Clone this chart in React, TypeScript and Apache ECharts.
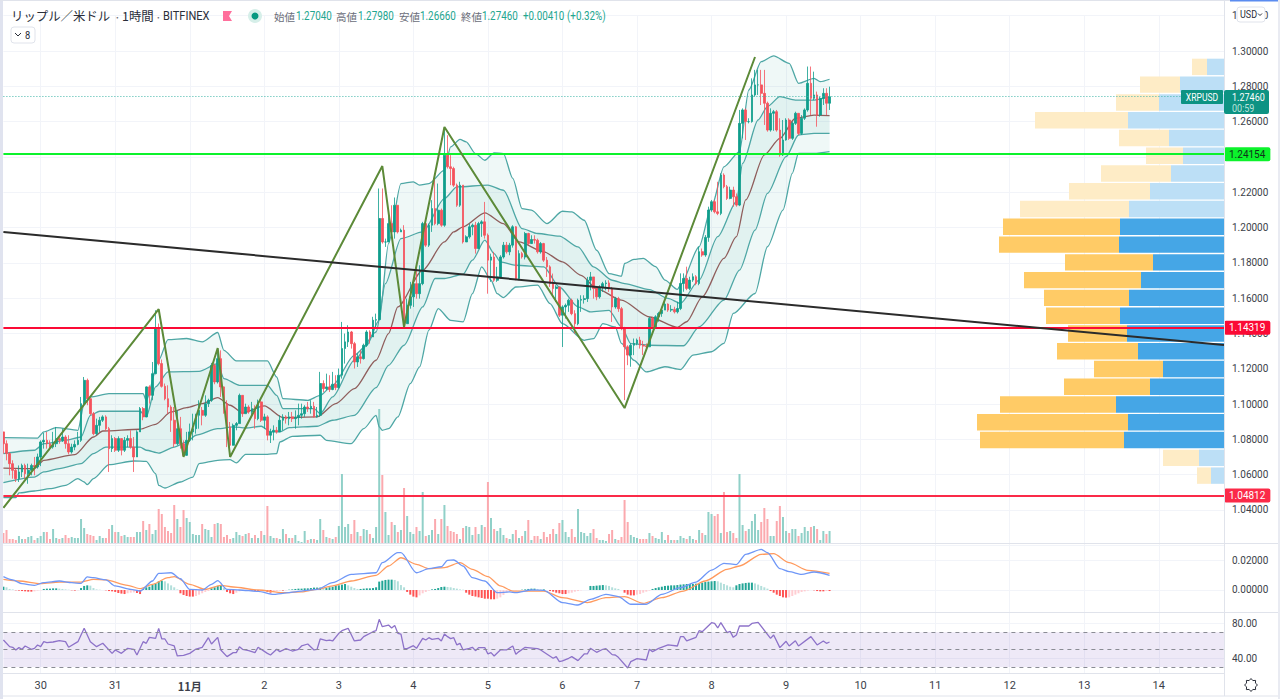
import React, { useEffect, useRef } from "react";
import * as echarts from "echarts";

const dayLabels = ["30", "31", "11月", "2", "3", "4", "5", "6", "7", "8", "9", "10", "11", "12", "13", "14"];
const firstDayIndex = 12;
const hoursPerDay = 24;
const slotCount = 394;
const firstOpen = 1.0842;

const closes = [
1.0775,1.0719,1.0662,1.0624,1.0577,1.0615,1.0652,1.0605,1.0624,1.0652,1.0643,1.0700,1.0785,1.0794,1.0775,1.0756,1.0775,1.0804,1.0794,1.0813,1.0775,1.0728,1.0756,1.0771,1.0794,
1.1002,1.1134,1.1030,1.0945,1.0832,1.0879,1.0908,1.0927,1.0860,1.0747,1.0804,1.0738,1.0804,1.0738,1.0794,1.0804,1.0756,1.0700,1.0842,1.0974,1.0927,1.1097,1.1049,1.1172,1.1428,
1.1229,1.1100,1.1030,1.0983,1.0908,1.0775,1.0860,1.0775,1.0709,1.0794,1.0842,1.0860,1.0936,1.0964,1.0936,1.1002,1.1021,1.1219,1.1125,1.1257,1.1097,1.1002,1.0870,1.0766,1.0879,
1.0889,1.1049,1.0945,1.0983,1.0955,1.0974,1.0917,1.1012,1.0908,1.0927,1.0823,1.0842,1.0851,1.0842,1.0908,1.0927,1.0917,1.0927,1.0917,1.0923,1.0936,1.0945,1.0983,1.0974,1.0987,
1.0927,1.0936,1.1116,1.1087,1.1097,1.1082,1.1112,1.1093,1.1163,1.1314,1.1352,1.1408,1.1342,1.1238,1.1267,1.1257,1.1333,1.1408,1.1380,1.1475,
1.1478,1.2051,1.1918,1.1918,1.2022,1.1975,1.2126,1.1975,1.1985,1.1455,1.1559,1.1607,1.1682,1.1625,1.1682,1.2022,1.1900,1.2013,1.2107,1.2022,1.2098,1.2013,1.2410,1.2344,1.2334,
1.2240,1.2126,1.2240,1.1918,1.1947,1.2004,1.2013,1.1881,1.2022,1.2032,1.1956,1.1815,1.1833,1.1701,1.1720,1.1833,1.1900,1.1862,1.1900,1.2004,1.1711,1.1852,1.1833,1.1966,1.1909,
1.1932,1.1928,1.1862,1.1909,1.1815,1.1777,1.1682,1.1654,1.1663,1.1503,1.1550,1.1559,1.1588,1.1512,1.1455,1.1588,1.1592,1.1597,1.1701,1.1720,1.1654,1.1607,1.1663,1.1682,1.1686,
1.1654,1.1550,1.1597,1.1540,1.1427,1.1324,1.1277,1.1333,1.1343,1.1362,1.1333,1.1328,1.1324,1.1485,1.1437,1.1494,1.1513,1.1532,1.1566,1.1532,1.1536,1.1522,1.1541,1.1683,1.1711,
1.1655,1.1702,1.1721,1.1683,1.1863,1.1844,1.1944,1.2099,1.2146,1.2089,1.2080,1.2297,1.2231,1.2165,1.2212,1.2174,1.2127,1.2590,1.2666,1.2600,1.2600,1.2751,1.2808,1.2808,1.2760,
1.2704,1.2552,1.2647,1.2656,1.2552,1.2411,1.2496,1.2609,1.2505,1.2590,1.2647,1.2533,1.2619,1.2666,1.2817,1.2732,1.2751,1.2637,1.2732,1.2760,1.2704,1.2741];
const highs = [
1.0842,1.0794,1.0728,1.0681,1.0634,1.0652,1.0662,1.0662,1.0662,1.0662,1.0700,1.0719,1.0794,1.0836,1.0842,1.0794,1.0842,1.0870,1.0823,1.0860,1.0823,1.0823,1.0775,1.0794,1.0842,
1.1040,1.1153,1.1144,1.0998,1.0955,1.0917,1.0927,1.0936,1.0936,1.0870,1.0823,1.0813,1.0817,1.0804,1.0813,1.0823,1.0851,1.0813,1.0851,1.0983,1.0983,1.1100,1.1106,1.1238,1.1531,
1.1456,1.1252,1.1116,1.1106,1.0993,1.0983,1.0964,1.0927,1.0794,1.0842,1.0889,1.0945,1.0945,1.1021,1.0983,1.1049,1.1030,1.1233,1.1229,1.1304,1.1304,1.1100,1.1021,1.0898,1.0889,
1.0898,1.1059,1.1049,1.1002,1.0993,1.1012,1.0993,1.1025,1.1021,1.0945,1.0936,1.0860,1.0879,1.0870,1.0936,1.0942,1.0936,1.0955,1.0955,1.0964,1.1002,1.1002,1.0993,1.1012,1.1021,
1.1012,1.0983,1.1182,1.1134,1.1172,1.1163,1.1182,1.1163,1.1201,1.1465,1.1399,1.1446,1.1414,1.1352,1.1286,1.1304,1.1342,1.1418,1.1418,1.1494,
1.1512,1.2221,1.2221,1.1937,1.2079,1.2126,1.2170,1.2126,1.1994,1.2013,1.1597,1.1692,1.1692,1.1786,1.1786,1.2032,1.2004,1.2022,1.2155,1.2287,1.2249,1.2107,1.2552,1.2523,1.2410,
1.2344,1.2249,1.2259,1.2240,1.1956,1.2022,1.2022,1.2032,1.2032,1.2041,1.2145,1.1966,1.1852,1.1862,1.1777,1.1843,1.1918,1.1918,1.1913,1.2013,1.2008,1.1871,1.1862,1.1975,1.1970,
1.1956,1.1956,1.1937,1.1918,1.1913,1.1833,1.1786,1.1739,1.1673,1.1663,1.1559,1.1569,1.1597,1.1597,1.1531,1.1597,1.1616,1.1616,1.1720,1.1748,1.1720,1.1654,1.1673,1.1692,1.1701,
1.1701,1.1663,1.1607,1.1607,1.1550,1.1437,1.1333,1.1343,1.1371,1.1371,1.1381,1.1358,1.1343,1.1494,1.1494,1.1503,1.1522,1.1551,1.1579,1.1570,1.1560,1.1551,1.1579,1.1740,1.1740,
1.1778,1.1721,1.1740,1.1730,1.1891,1.1881,1.1957,1.2118,1.2156,1.2156,1.2259,1.2307,1.2307,1.2241,1.2231,1.2231,1.2193,1.2666,1.2675,1.2675,1.2619,1.2845,1.2893,1.2893,1.2893,
1.2893,1.2713,1.2675,1.2666,1.2666,1.2619,1.2609,1.2619,1.2619,1.2600,1.2656,1.2647,1.2637,1.2675,1.2912,1.2912,1.2883,1.2770,1.2741,1.2789,1.2789,1.2798];
const lows = [
1.0719,1.0681,1.0596,1.0577,1.0558,1.0558,1.0586,1.0577,1.0548,1.0596,1.0596,1.0634,1.0648,1.0747,1.0747,1.0738,1.0747,1.0756,1.0775,1.0785,1.0747,1.0715,1.0719,1.0738,1.0766,
1.0785,1.0998,1.0993,1.0936,1.0823,1.0823,1.0842,1.0898,1.0847,1.0615,1.0728,1.0728,1.0728,1.0709,1.0728,1.0756,1.0747,1.0615,1.0700,1.0842,1.0908,1.0945,1.1002,1.1021,1.1168,
1.1219,1.1093,1.1021,1.0945,1.0842,1.0756,1.0766,1.0747,1.0700,1.0719,1.0785,1.0794,1.0832,1.0860,1.0879,1.0927,1.0983,1.1012,1.1112,1.1116,1.1040,1.0945,1.0756,1.0700,1.0804,
1.0851,1.0889,1.0927,1.0945,1.0945,1.0936,1.0860,1.0908,1.0898,1.0860,1.0794,1.0779,1.0794,1.0832,1.0898,1.0851,1.0889,1.0879,1.0898,1.0860,1.0879,1.0917,1.0927,1.0955,1.0945,
1.0923,1.0923,1.0927,1.1068,1.1078,1.1068,1.1078,1.1078,1.1087,1.1144,1.1229,1.1323,1.1314,1.1201,1.1210,1.1229,1.1252,1.1323,1.1342,1.1390,
1.1427,1.1474,1.1909,1.1890,1.1924,1.1937,1.1937,1.1966,1.1975,1.1437,1.1455,1.1540,1.1550,1.1597,1.1597,1.1673,1.1890,1.1890,1.1975,1.2013,1.2013,1.2004,1.2004,1.2334,1.2240,
1.2230,1.2117,1.2117,1.1909,1.1918,1.1937,1.1956,1.1852,1.1937,1.1947,1.1937,1.1625,1.1692,1.1692,1.1692,1.1711,1.1824,1.1852,1.1843,1.1886,1.1701,1.1701,1.1824,1.1819,1.1900,
1.1918,1.1909,1.1852,1.1852,1.1805,1.1720,1.1663,1.1607,1.1578,1.1493,1.1323,1.1484,1.1522,1.1503,1.1399,1.1446,1.1522,1.1569,1.1578,1.1644,1.1597,1.1588,1.1597,1.1635,1.1644,
1.1635,1.1465,1.1540,1.1522,1.1418,1.1022,1.1220,1.1211,1.1277,1.1333,1.1314,1.1277,1.1314,1.1324,1.1428,1.1428,1.1466,1.1494,1.1532,1.1522,1.1522,1.1513,1.1513,1.1532,1.1636,
1.1645,1.1645,1.1692,1.1673,1.1673,1.1834,1.1834,1.1919,1.2089,1.2080,1.2070,1.2070,1.2222,1.2156,1.2160,1.2118,1.2118,1.2121,1.2505,1.2496,1.2590,1.2594,1.2741,1.2751,1.2694,
1.2581,1.2543,1.2543,1.2548,1.2543,1.2401,1.2405,1.2492,1.2496,1.2496,1.2581,1.2524,1.2524,1.2609,1.2656,1.2637,1.2722,1.2571,1.2628,1.2694,1.2637,1.2666];
const volumes = [
10,13,4,4,3,7,4,4,6,7,3,5,7,11,11,4,14,5,4,5,8,5,6,5,5,24,15,9,8,7,3,7,5,5,14,18,11,11,7,8,6,6,6,11,11,22,13,19,9,13,
34,29,16,12,10,38,24,16,33,25,21,9,8,8,19,14,13,6,19,20,19,6,8,4,5,11,8,7,9,10,5,8,5,12,8,37,7,5,5,4,14,9,5,5,8,2,1,12,3,4,
4,3,24,13,6,5,4,6,17,69,16,19,9,23,11,7,14,13,9,5,16,134,68,31,8,21,18,11,13,55,27,11,9,16,12,51,7,8,13,24,9,24,38,17,12,11,9,4,15,17,
16,8,16,9,18,16,61,25,14,12,15,8,5,4,9,13,5,7,12,23,3,7,7,4,11,6,9,14,9,20,23,11,6,14,6,34,11,10,7,10,14,5,3,3,2,9,13,4,3,6,
43,21,8,6,5,4,4,4,10,7,5,4,11,3,8,3,3,3,7,5,4,7,4,3,13,10,8,31,29,27,29,10,51,11,12,10,5,69,18,12,14,22,29,13,21,35,24,7,7,22,
37,26,12,10,14,14,7,10,16,12,16,17,14,3,12,9,12];
const macdHist = [
.0022,.0018,.0007,.0004,-.0002,-.0004,-.0007,-.0009,-.0011,-.0011,-.0009,-.0004,-.0002,.0007,.0009,.0009,.0011,.0011,.0009,.0007,.0004,.0002,-.0002,-.0004,-.0002,
.0013,.0027,.0031,.0029,.0013,.0004,.0002,0,-.0002,-.0007,-.0009,-.0013,-.0020,-.0024,-.0027,-.0022,-.0018,-.0016,-.0020,-.0027,
.0007,.0018,.0022,.0033,.0044,.0058,.0062,.0058,.0044,.0031,.0018,.0004,-.0022,-.0033,-.0040,-.0044,-.0044,-.0040,-.0031,-.0022,-.0013,-.0007,
.0011,.0018,.0027,.0031,.0013,-.0013,-.0022,-.0027,-.0018,-.0009,-.0004,-.0002,-.0002,-.0004,-.0007,-.0007,-.0004,-.0004,-.0013,-.0018,-.0011,-.0007,-.0004,-.0004,-.0002,.0002,
.0004,.0007,.0009,.0009,.0011,.0011,.0013,.0016,.0016,.0016,.0013,.0013,.0018,.0022,.0027,.0031,.0036,.0040,.0031,.0022,.0013,.0007,.0007,.0009,.0011,.0011,.0013,.0018,
.0056,.0062,.0067,.0069,.0069,.0067,.0058,.0033,.0018,-.0013,-.0031,-.0044,-.0049,-.0036,-.0022,-.0013,-.0004,.0004,.0007,.0013,.0020,.0022,.0020,.0018,.0013,.0009,.0004,.0002,
-.0018,-.0031,-.0040,-.0044,-.0049,-.0053,-.0058,-.0058,-.0062,-.0062,-.0058,-.0049,-.0033,-.0018,-.0009,-.0004,-.0002,0,.0002,.0004,.0007,.0009,.0009,.0007,.0004,.0004,0,
-.0007,-.0011,-.0018,-.0022,-.0027,-.0027,-.0022,-.0018,-.0011,-.0007,-.0002,0,0,.0027,.0027,.0029,.0031,.0033,.0031,.0027,.0018,.0011,.0007,0,
-.0018,-.0031,-.0036,-.0036,-.0031,-.0027,-.0018,-.0011,-.0004,.0007,.0013,.0018,.0022,.0027,.0029,.0031,.0031,.0033,.0036,.0038,.0040,.0040,.0040,.0042,.0044,.0049,
.0053,.0056,.0058,.0060,.0058,.0049,.0040,.0031,.0022,.0018,.0031,.0040,.0044,.0047,.0049,.0049,.0044,.0036,.0027,.0018,.0009,
-.0007,-.0018,-.0031,-.0040,-.0049,-.0051,-.0049,-.0040,-.0031,-.0022,-.0013,-.0009,-.0004,0,-.0002,-.0007,-.0009,-.0009,-.0007,-.0007];

const bandUpperOuter = [[0,1.0809],[11,1.0807],[13,1.0842],[17,1.0866],[24,1.0851],[26,1.1002],[28,1.1040],[34,1.1059],[45,1.1059],[46,1.1021],[50,1.1248],[53,1.1365],[59,1.1371],[64,1.1352],[69,1.1405],[71,1.1304],[75,1.1244],[85,1.1244],[88,1.1153],[90,1.1030],[98,1.1021],[102,1.1049],[106,1.1106],[113,1.1276],[117,1.1333],[121,1.1475],[124,1.1909],[128,1.2249],[132,1.2259],[134,1.2240],[137,1.2249],[142,1.2325],[144,1.2457],[147,1.2499],[149,1.2485],[152,1.2419],[155,1.2381],[158,1.2423],[161,1.2419],[164,1.2278],[167,1.2107],[170,1.2098],[175,1.2022],[180,1.2092],[183,1.2089],[187,1.2041],[191,1.1871],[195,1.1739],[199,1.1724],[200,1.1796],[203,1.1819],[206,1.1825],[210,1.1778],[213,1.1702],[217,1.1649],[218,1.1674],[224,1.1891],[228,1.2118],[232,1.2344],[237,1.2430],[240,1.2779],[244,1.2940],[248,1.2972],[253,1.2930],[256,1.2817],[261,1.2845],[263,1.2826],[266,1.2840]];
const bandUpperInner = [[0,1.0719],[10,1.0738],[13,1.0775],[20,1.0794],[25,1.0813],[28,1.0936],[31,1.0959],[44,1.0959],[46,1.0927],[49,1.1097],[53,1.1182],[63,1.1185],[69,1.1229],[71,1.1144],[76,1.1106],[85,1.1106],[88,1.1049],[90,1.0974],[100,1.0974],[102,1.0945],[106,1.1040],[113,1.1248],[120,1.1408],[123,1.1682],[128,1.1937],[135,1.1975],[142,1.2164],[146,1.2230],[156,1.2240],[161,1.2211],[167,1.1994],[172,1.1966],[179,1.1951],[185,1.1890],[190,1.1777],[196,1.1701],[200,1.1682],[208,1.1648],[214,1.1598],[218,1.1570],[224,1.1702],[230,1.1948],[236,1.2146],[238,1.2363],[243,1.2609],[246,1.2685],[250,1.2741],[255,1.2722],[261,1.2722],[266,1.2741]];
const bandMiddle = [[0,1.0637],[10,1.0634],[13,1.0681],[23,1.0713],[29,1.0813],[32,1.0847],[44,1.0857],[49,1.0885],[54,1.0955],[59,1.0979],[64,1.1002],[69,1.1036],[73,1.0993],[77,1.0949],[84,1.0989],[90,1.0923],[101,1.0927],[107,1.1002],[113,1.1087],[120,1.1248],[124,1.1399],[127,1.1550],[135,1.1758],[142,1.1918],[145,1.1975],[148,1.2004],[155,1.2083],[161,1.2022],[166,1.1918],[174,1.1862],[180,1.1805],[186,1.1729],[191,1.1654],[199,1.1588],[208,1.1493],[217,1.1434],[220,1.1466],[225,1.1607],[232,1.1825],[236,1.1948],[239,1.2156],[245,1.2411],[250,1.2505],[255,1.2619],[261,1.2637],[266,1.2634]];
const bandLowerInner = [[0,1.0554],[10,1.0586],[13,1.0615],[18,1.0634],[25,1.0662],[29,1.0719],[33,1.0756],[44,1.0756],[46,1.0738],[50,1.0722],[55,1.0756],[59,1.0785],[62,1.0823],[69,1.0860],[74,1.0870],[78,1.0864],[83,1.0874],[86,1.0842],[89,1.0842],[92,1.0866],[101,1.0874],[106,1.0908],[113,1.0936],[120,1.1093],[124,1.1219],[129,1.1333],[135,1.1550],[139,1.1711],[142,1.1711],[148,1.1735],[151,1.1815],[155,1.1928],[158,1.1852],[160,1.1805],[165,1.1786],[174,1.1777],[179,1.1663],[185,1.1550],[189,1.1522],[195,1.1531],[199,1.1437],[202,1.1342],[208,1.1333],[219,1.1330],[224,1.1437],[232,1.1589],[237,1.1759],[242,1.1985],[246,1.2193],[252,1.2401],[256,1.2524],[261,1.2533],[266,1.2533]];
const bandLowerOuter = [[0,1.0469],[4,1.0469],[5,1.0496],[10,1.0507],[15,1.0520],[20,1.0539],[24,1.0577],[26,1.0558],[27,1.0543],[29,1.0577],[34,1.0656],[42,1.0677],[46,1.0675],[49,1.0605],[50,1.0539],[52,1.0524],[57,1.0558],[61,1.0586],[63,1.0662],[69,1.0681],[73,1.0685],[75,1.0666],[78,1.0715],[85,1.0715],[88,1.0719],[89,1.0785],[93,1.0817],[102,1.0823],[104,1.0794],[112,1.0775],[116,1.0860],[120,1.0936],[121,1.0870],[122,1.0851],[124,1.0860],[127,1.0927],[131,1.1116],[134,1.1210],[137,1.1418],[140,1.1540],[144,1.1474],[148,1.1465],[151,1.1625],[154,1.1777],[157,1.1701],[159,1.1625],[161,1.1603],[165,1.1663],[172,1.1673],[176,1.1569],[180,1.1455],[187,1.1361],[190,1.1370],[193,1.1455],[197,1.1437],[199,1.1343],[203,1.1248],[207,1.1182],[213,1.1211],[218,1.1195],[222,1.1277],[228,1.1296],[232,1.1343],[235,1.1513],[242,1.1626],[246,1.1891],[251,1.2099],[254,1.2307],[256,1.2420],[261,1.2420],[266,1.2430]];

const zigzag = [[0,1.0411],[50,1.1537],[58,1.0700],[69,1.1317],[73,1.0700],[122,1.2348],[129,1.1436],[142,1.2569],[200,1.0977],[242,1.2966]];
const trendLine = [[0,1.1975],[393,1.1334]];
const levelGreen = 1.24154;
const levelRedUpper = 1.14319;
const levelRedLower = 1.04812;
const lastPrice = 1.2746;

const macdLine = [[0,.0089],[3,.0067],[6,.0042],[10,.0031],[13,.0049],[18,.0060],[22,.0049],[25,.0044],[27,.0087],[29,.0082],[33,.0067],[36,.0027],[41,.0004],[44,-.0007],[48,.0060],[50,.0111],[54,.0115],[57,.0075],[60,.0004],[64,0],[67,.0038],[69,.0062],[72,.0004],[76,0],[82,-.0009],[87,-.0029],[90,-.0022],[96,-.0007],[101,.0004],[106,.0049],[112,.0104],[120,.0115],[122,.0182],[127,.0249],[128,.0249],[133,.0115],[137,.0142],[141,.0155],[143,.0198],[145,.0200],[148,.0160],[151,.0082],[155,.0060],[159,-.0018],[163,-.0013],[165,-.0018],[170,0],[174,-.0002],[180,-.0084],[185,-.0100],[189,-.0062],[194,-.0029],[198,-.0044],[202,-.0095],[207,-.0095],[212,-.0029],[218,.0016],[223,.0053],[228,.0133],[232,.0178],[236,.0169],[239,.0238],[244,.0271],[246,.0249],[250,.0142],[253,.0122],[257,.0104],[261,.0120],[266,.0098]];
const macdSignal = [[0,.0071],[5,.0060],[12,.0042],[18,.0053],[25,.0053],[29,.0071],[33,.0067],[40,.0031],[44,.0009],[48,.0038],[53,.0082],[55,.0089],[60,.0038],[65,.0004],[70,.0031],[74,.0020],[82,0],[90,-.0018],[96,-.0013],[101,.0004],[106,.0027],[112,.0060],[120,.0098],[124,.0160],[128,.0215],[133,.0171],[137,.0142],[142,.0149],[147,.0182],[151,.0138],[156,.0089],[160,.0027],[164,-.0007],[170,-.0007],[174,-.0007],[180,-.0051],[188,-.0084],[194,-.0051],[200,-.0044],[206,-.0089],[212,-.0051],[219,-.0007],[226,.0060],[233,.0138],[237,.0160],[244,.0238],[248,.0242],[253,.0182],[259,.0131],[266,.0111]];
const rsiLine = [[0,61.1],[2,53.4],[3,52.7],[4,49.6],[5,52.3],[6,50.4],[7,54.2],[9,50.4],[10,51.5],[11,55.3],[12,53.4],[13,59.2],[14,58],[16,58.8],[18,60.4],[20,59.2],[21,52.7],[24,59.2],[26,74.6],[28,59.2],[30,53.4],[32,57.3],[35,45.7],[36,49.6],[38,45.7],[40,51.5],[42,50.4],[43,43.8],[45,59.2],[46,57.3],[47,64.2],[49,63],[50,74.6],[51,62.3],[52,62.3],[53,56.5],[55,54.2],[56,42.7],[58,43.4],[60,45.7],[62,50.7],[64,52.7],[66,63.8],[67,56.5],[69,64.2],[70,49.6],[72,41.9],[74,46.5],[75,46.5],[76,53.4],[77,50.4],[79,48.8],[81,46.5],[82,52.7],[85,45.7],[86,43.8],[88,50.4],[89,47.7],[91,51.1],[93,48.4],[95,50.4],[96,54.2],[98,56.5],[100,49.6],[101,50.4],[102,62.3],[104,60.4],[105,61.1],[106,60],[108,68.8],[109,71.9],[111,74.6],[113,60],[115,61.1],[116,65],[119,70.7],[120,71.9],[121,85],[122,76.5],[124,78.4],[125,75],[126,78],[127,68.8],[128,68],[129,51.1],[130,51.1],[132,54.6],[133,51.5],[135,63],[136,61.1],[137,63.8],[138,61.9],[140,63],[141,60],[142,68],[143,65],[144,62.7],[145,63.8],[146,55.4],[147,57.3],[148,49.6],[150,51.5],[151,52.7],[152,48.8],[153,52.3],[155,52.3],[156,45],[157,46.5],[158,42.7],[160,49.6],[162,49.6],[164,54.2],[165,44.6],[166,47.7],[168,52.7],[171,51.5],[172,51.1],[173,49.6],[177,40],[178,41.9],[179,36.1],[180,36.9],[182,40],[183,41.9],[185,37.3],[187,45],[188,45],[189,51.5],[191,46.9],[193,50.4],[194,51.1],[196,44.2],[197,43.8],[198,41.1],[201,28.8],[202,36.1],[204,39.6],[207,38],[208,50.4],[209,47.7],[211,51.5],[214,55.4],[217,54.2],[218,65],[219,65],[220,60],[223,64.2],[224,71.9],[225,70.7],[228,81.1],[229,80.3],[230,75],[231,81.1],[233,69.6],[234,71.1],[235,64.2],[236,66.9],[237,77.3],[240,77.3],[241,80.3],[243,81.5],[247,63],[248,66.9],[250,52.3],[252,59.6],[253,54.2],[255,60.3],[256,54.2],[260,65],[262,55.4],[264,60],[265,57.3],[266,58.8]];

const profileBuy = [17,44,65,96,55,41,53,74,95,104,105,71,83,95,104,97,86,61,74,108,96,100,25,13];
const profileSell = [15,40,43,93,50,37,70,81,109,117,120,88,117,85,74,59,81,69,86,116,151,144,36,14];
const valueAreaFirstRow = 9;
const valueAreaLastRow = 21;

const priceTicksMin = 1.02;
const priceTicksMax = 1.32;
const priceTickStep = 0.02;
const macdTicks = [0, 0.02];
const rsiTicks = [40, 80];
const rsiLevels = [70, 50, 30];

const UP = "#0f9d8c";
const DOWN = "#f5525c";
const GRID = "#f2f4f9";
const BORDER = "#e0e3eb";
const AXIS_TEXT = "#3c3f4a";
const LATIN = "Roboto, sans-serif";
const LEFT = 3.4;
const PANE_W = 1220.6;
const PANE_RIGHT = 1224;

const categories = Array.from({ length: slotCount }, (_, i) => {
  const d = (i - firstDayIndex) / hoursPerDay;
  return Number.isInteger(d) && d >= 0 && d < dayLabels.length ? dayLabels[d] : `_${i}`;
});
const isDay = (v: string) => !String(v).startsWith("_");
const dayLine = (_: number, v: string) => isDay(v);

const candleData = closes.map((c, i) => [i === 0 ? firstOpen : closes[i - 1], c, lows[i], highs[i]]);

const makeX = (gridIndex: number, showLabels = false) => ({
  type: "category",
  gridIndex,
  data: categories,
  boundaryGap: false,
  axisTick: { show: false },
  axisLine: { show: showLabels, lineStyle: { color: BORDER } },
  splitLine: { show: true, interval: dayLine, lineStyle: { color: GRID, width: 1 } },
  axisLabel: showLabels
    ? {
        show: true,
        interval: dayLine,
        margin: 7,
        fontFamily: LATIN,
        fontSize: 11,
        color: AXIS_TEXT,
        hideOverlap: false,
        showMinLabel: true,
        showMaxLabel: true,
        formatter: (v: string) => (!isDay(v) ? "" : v === "11月" ? `{b|${v}}` : v),
        rich: { b: { fontWeight: "bold", fontSize: 11, fontFamily: '"Noto Sans CJK JP", sans-serif', color: AXIS_TEXT } },
      }
    : { show: false },
});

const bandFill = (upper: number[][], lower: number[][], fill: string, z: number) => ({
  type: "custom",
  xAxisIndex: 0,
  yAxisIndex: 0,
  z,
  silent: true,
  data: [[upper[0][0], upper[0][1]]],
  encode: { x: 0, y: 1 },
  renderItem: (_: unknown, api: any) => ({
    type: "polygon",
    shape: { points: [...upper, ...[...lower].reverse()].map((p) => api.coord(p)) },
    style: { fill },
  }),
});

const bandLine = (data: number[][], color: string) => ({
  type: "line",
  xAxisIndex: 0,
  yAxisIndex: 0,
  data,
  z: 3,
  silent: true,
  showSymbol: false,
  symbol: "none",
  smooth: 0.25,
  smoothMonotone: "x",
  lineStyle: { color, width: 1.3 },
});

const levelLine = (value: number, color: string, textColor: string, width: number) => ({
  yAxis: value,
  lineStyle: { color, width, type: "solid" },
  label: {
    show: true,
    position: "end",
    distance: 0,
    formatter: value.toFixed(5),
    backgroundColor: color,
    color: textColor,
    padding: [2, 5, 2, 5],
    borderRadius: 2,
    fontFamily: LATIN,
    fontSize: 10,
  },
});

const text = (s: string, x: number, y: number, fill: string, font: string, scaleX = 1, align = "left") => ({
  type: "text",
  x,
  y,
  scaleX,
  z: 100,
  silent: true,
  style: { text: s, fill, font, align, verticalAlign: "middle" },
});
const hLine = (y: number, x1 = 0, x2 = 1280, stroke = BORDER) => ({
  type: "line",
  z: 90,
  silent: true,
  shape: { x1, y1: y, x2, y2: y },
  style: { stroke, lineWidth: 1 },
});

const JP = '"Noto Sans CJK JP", sans-serif';
const gearPoints = Array.from({ length: 16 }, (_, i) => {
  const r = i % 2 === 0 ? 6.5 : 4.8;
  const a = (i * Math.PI) / 8;
  return [1251 + r * Math.cos(a), 685 + r * Math.sin(a)];
});

const graphics = [
  hLine(543.5),
  hLine(612.5),
  hLine(696),
  { type: "line", z: 90, silent: true, shape: { x1: 1224.5, y1: 0, x2: 1224.5, y2: 696 }, style: { stroke: BORDER, lineWidth: 1 } },
  { type: "rect", z: 95, silent: true, shape: { x: 0, y: 0, width: 3, height: 699 }, style: { fill: "#e0e3ef" } },
  { type: "rect", z: 95, silent: true, shape: { x: 0, y: 0, width: 1230, height: 1 }, style: { fill: "#e0e3eb" } },
  { type: "rect", z: 95, silent: true, shape: { x: 1230, y: 0, width: 50, height: 1.5 }, style: { fill: "#5b8cf0" } },
  { type: "rect", z: 95, silent: true, shape: { x: 1278, y: 0, width: 2, height: 699 }, style: { fill: "#e9ebf2" } },

  text("リップル／米ドル", 11, 16, "#2a2e39", `12.4px ${JP}`),
  text("·", 114, 16, "#6a6d78", `12px ${JP}`),
  text("1時間", 122, 16, "#2a2e39", `12.4px ${JP}`),
  text("·", 155, 16, "#6a6d78", `12px ${JP}`),
  text("BITFINEX", 163, 16, "#2a2e39", `13px ${LATIN}`, 0.85),
  { type: "polygon", z: 100, silent: true, shape: { points: [[223, 11], [232, 11], [229, 16], [232, 21], [223, 21]] }, style: { fill: "#ff6f9c" } },
  { type: "circle", z: 100, silent: true, shape: { cx: 255, cy: 16, r: 7 }, style: { fill: "#d6efe9" } },
  { type: "circle", z: 101, silent: true, shape: { cx: 255, cy: 16, r: 3.5 }, style: { fill: "#089981" } },
  text("始値", 274, 16, "#6a6d78", `10.5px ${JP}`),
  text("1.27040", 296, 16, "#22a68f", `12px ${LATIN}`, 0.82),
  text("高値", 336, 16, "#6a6d78", `10.5px ${JP}`),
  text("1.27980", 358, 16, "#22a68f", `12px ${LATIN}`, 0.82),
  text("安値", 399, 16, "#6a6d78", `10.5px ${JP}`),
  text("1.26660", 420, 16, "#22a68f", `12px ${LATIN}`, 0.82),
  text("終値", 461, 16, "#6a6d78", `10.5px ${JP}`),
  text("1.27460", 482, 16, "#22a68f", `12px ${LATIN}`, 0.82),
  text("+0.00410", 523, 16, "#22a68f", `12px ${LATIN}`, 0.82),
  text("(+0.32%)", 567, 16, "#22a68f", `12px ${LATIN}`, 0.82),

  { type: "rect", z: 100, silent: true, shape: { x: 11, y: 27, width: 24, height: 16, r: 3 }, style: { fill: "#fff", stroke: "#e0e3eb", lineWidth: 1 } },
  { type: "polyline", z: 101, silent: true, shape: { points: [[15, 33], [18, 36], [21, 33]] }, style: { fill: "none", stroke: "#2a2e39", lineWidth: 1 } },
  text("8", 25, 35, "#2a2e39", `11px ${LATIN}`, 0.85),

  { type: "rect", z: 100, silent: true, shape: { x: 1237, y: 7, width: 28, height: 15, r: 3 }, style: { fill: "#fff", stroke: "#e0e3eb", lineWidth: 1 } },
  text("USD", 1240, 14.5, "#2a2e39", `11px ${LATIN}`, 0.82),
  { type: "polyline", z: 101, silent: true, shape: { points: [[1258, 13.5], [1260, 15.5], [1262, 13.5]] }, style: { fill: "none", stroke: "#2a2e39", lineWidth: 1 } },

  { type: "rect", z: 99, silent: true, shape: { x: 1181, y: 90, width: 42, height: 14, r: 1 }, style: { fill: "#0d9383" } },
  text("XRPUSD", 1202, 97, "#ffffff", `11px ${LATIN}`, 0.78, "center"),
  { type: "rect", z: 99, silent: true, shape: { x: 1224, y: 90, width: 45, height: 24, r: 2 }, style: { fill: "#0d9383" } },
  text("1.27460", 1232, 97, "#ffffff", `11px ${LATIN}`, 0.82),
  text("00:59", 1232, 108, "#b8e3dc", `11px ${LATIN}`, 0.82),

  { type: "polygon", z: 100, silent: true, shape: { points: gearPoints }, style: { fill: "none", stroke: "#2a2e39", lineWidth: 1 } },
];

const option = {
  animation: false,
  backgroundColor: "#ffffff",
  tooltip: { show: false },
  graphic: graphics,
  grid: [
    { left: LEFT, width: PANE_W, top: 15.7, height: 529.5 },
    { left: LEFT, width: PANE_W, top: 403, height: 140 },
    { left: LEFT, width: PANE_W, top: 544, height: 68 },
    { left: LEFT, width: PANE_W, top: 613, height: 60 },
    { left: PANE_RIGHT - 260, width: 260, top: 58, height: 426.5 },
  ],
  xAxis: [
    makeX(0),
    { ...makeX(1), splitLine: { show: false } },
    makeX(2),
    makeX(3, true),
    { type: "value", gridIndex: 4, inverse: true, min: 0, max: 260, show: false },
  ],
  yAxis: [
    {
      type: "value",
      gridIndex: 0,
      position: "right",
      min: priceTicksMin,
      max: priceTicksMax,
      interval: priceTickStep,
      splitLine: { lineStyle: { color: GRID } },
      axisLine: { show: false },
      axisTick: { show: false },
      axisLabel: {
        margin: 8,
        fontFamily: LATIN,
        fontSize: 10,
        color: AXIS_TEXT,
        formatter: (v: number) => (Math.abs(v - priceTicksMin) < 1e-9 ? "" : v.toFixed(5)),
      },
    },
    { type: "value", gridIndex: 1, min: 0, max: 140, show: false, splitLine: { show: false } },
    {
      type: "value",
      gridIndex: 2,
      position: "right",
      min: -0.01467,
      max: 0.03067,
      axisLine: { show: false },
      axisTick: { show: false, customValues: macdTicks },
      splitLine: { lineStyle: { color: GRID } },
      axisLabel: {
        customValues: macdTicks,
        margin: 8,
        fontFamily: LATIN,
        fontSize: 10,
        color: AXIS_TEXT,
        formatter: (v: number) => v.toFixed(5),
      },
    },
    {
      type: "value",
      gridIndex: 3,
      position: "right",
      min: 23,
      max: 92.3,
      axisLine: { show: false },
      axisTick: { show: false, customValues: rsiTicks },
      splitLine: { lineStyle: { color: GRID } },
      axisLabel: {
        customValues: rsiTicks,
        margin: 8,
        fontFamily: LATIN,
        fontSize: 10,
        color: AXIS_TEXT,
        formatter: (v: number) => v.toFixed(2),
      },
    },
    { type: "category", gridIndex: 4, inverse: true, data: profileBuy.map((_, i) => `r${i}`), show: false },
  ],
  series: [
    {
      type: "bar",
      xAxisIndex: 4,
      yAxisIndex: 4,
      stack: "profile",
      barWidth: 16.4,
      z: 1,
      silent: true,
      data: profileBuy.map((v, i) => ({
        value: v,
        itemStyle: { color: i >= valueAreaFirstRow && i <= valueAreaLastRow ? "#45a6e6" : "#bcdff6" },
      })),
    },
    {
      type: "bar",
      xAxisIndex: 4,
      yAxisIndex: 4,
      stack: "profile",
      barWidth: 16.4,
      z: 1,
      silent: true,
      data: profileSell.map((v, i) => ({
        value: v,
        itemStyle: { color: i >= valueAreaFirstRow && i <= valueAreaLastRow ? "#ffcb66" : "#feecc6" },
      })),
    },
    bandFill(bandUpperOuter, bandLowerOuter, "rgba(38,166,154,0.075)", 2),
    bandFill(bandUpperInner, bandLowerInner, "rgba(38,166,154,0.07)", 2),
    bandLine(bandUpperOuter, "#4ea7a5"),
    bandLine(bandUpperInner, "#4ea7a5"),
    bandLine(bandLowerInner, "#4ea7a5"),
    bandLine(bandLowerOuter, "#4ea7a5"),
    bandLine(bandMiddle, "#8f5e5c"),
    {
      type: "bar",
      xAxisIndex: 1,
      yAxisIndex: 1,
      barWidth: 2,
      z: 2,
      silent: true,
      data: volumes.map((v, i) => ({
        value: v,
        itemStyle: { color: candleData[i][1] >= candleData[i][0] ? "#90d0c8" : "#fba9ae" },
      })),
    },
    {
      type: "candlestick",
      xAxisIndex: 0,
      yAxisIndex: 0,
      z: 4,
      silent: true,
      barWidth: 2.2,
      data: candleData,
      itemStyle: { color: UP, color0: DOWN, borderColor: UP, borderColor0: DOWN, borderWidth: 0.8 },
    },
    {
      type: "line",
      xAxisIndex: 0,
      yAxisIndex: 0,
      data: zigzag,
      z: 5,
      silent: true,
      showSymbol: false,
      symbol: "none",
      lineStyle: { color: "#5c8a38", width: 2 },
    },
    {
      type: "line",
      xAxisIndex: 0,
      yAxisIndex: 0,
      data: trendLine,
      z: 6,
      silent: true,
      showSymbol: false,
      symbol: "none",
      lineStyle: { color: "#2b2b2b", width: 2 },
      markLine: {
        silent: true,
        symbol: "none",
        animation: false,
        precision: 5,
        data: [
          levelLine(levelGreen, "#0cf22c", "#10331a", 2),
          levelLine(levelRedUpper, "#fb0a35", "#ffffff", 2),
          levelLine(levelRedLower, "#fb2a48", "#ffffff", 2),
          { yAxis: lastPrice, lineStyle: { color: "#3fb5a8", width: 1, type: [1, 2] }, label: { show: false } },
        ],
      },
    },
    {
      type: "bar",
      xAxisIndex: 2,
      yAxisIndex: 2,
      barWidth: 2,
      z: 2,
      silent: true,
      data: macdHist.map((v, i) => {
        const prev = i === 0 ? 0 : macdHist[i - 1];
        const color = v >= 0 ? (v >= prev ? "#22a596" : "#b2dfdb") : v <= prev ? "#ff5252" : "#ffcdd2";
        return { value: v, itemStyle: { color } };
      }),
    },
    {
      type: "line",
      xAxisIndex: 2,
      yAxisIndex: 2,
      data: macdSignal,
      z: 3,
      silent: true,
      showSymbol: false,
      symbol: "none",
      smooth: 0.25,
      smoothMonotone: "x",
      lineStyle: { color: "#ff9a5e", width: 1.3 },
    },
    {
      type: "line",
      xAxisIndex: 2,
      yAxisIndex: 2,
      data: macdLine,
      z: 4,
      silent: true,
      showSymbol: false,
      symbol: "none",
      smooth: 0.25,
      smoothMonotone: "x",
      lineStyle: { color: "#6f97f7", width: 1.3 },
    },
    {
      type: "line",
      xAxisIndex: 3,
      yAxisIndex: 3,
      data: rsiLine,
      z: 4,
      silent: true,
      showSymbol: false,
      symbol: "none",
      lineStyle: { color: "#8d72c9", width: 1.3 },
      markArea: {
        silent: true,
        itemStyle: { color: "rgba(126,87,194,0.13)" },
        data: [[{ yAxis: rsiLevels[0] }, { yAxis: rsiLevels[2] }]],
      },
      markLine: {
        silent: true,
        symbol: "none",
        animation: false,
        label: { show: false },
        data: rsiLevels.map((v) => ({
          yAxis: v,
          lineStyle: { color: "#8a8c94", width: 1, type: [4, 4] },
        })),
      },
    },
  ],
};

export default function App() {
  const ref = useRef<HTMLDivElement | null>(null);
  useEffect(() => {
    document.body.style.margin = "0";
    const chart = echarts.init(ref.current as HTMLDivElement, null, { renderer: "svg" });
    chart.setOption(option as any);
    return () => chart.dispose();
  }, []);
  return <div ref={ref} style={{ position: "fixed", left: 0, top: 0, width: 1280, height: 699 }} />;
}
